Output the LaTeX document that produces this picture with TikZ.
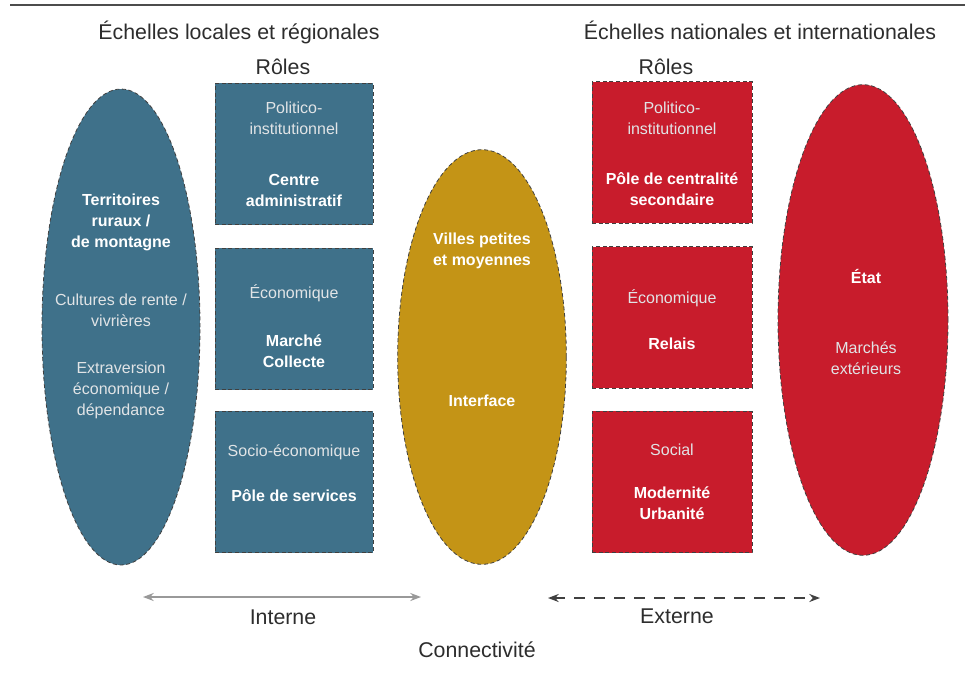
\documentclass[tikz,border=0pt]{standalone}
\usepackage{fontspec}
\setmainfont{Liberation Sans}
\usetikzlibrary{shapes.geometric,arrows.meta}
\definecolor{bluef}{RGB}{63,113,138}
\definecolor{orangef}{RGB}{196,148,22}
\definecolor{redf}{RGB}{200,28,44}
\definecolor{titlec}{RGB}{45,45,45}
\definecolor{lightt}{RGB}{225,228,230}
\tikzset{
  ell/.style={ellipse, draw=black!75, densely dashed, line width=0.6pt, inner sep=0pt},
  boxx/.style={rectangle, draw=black!75, densely dashed, line width=0.6pt, inner sep=0pt, minimum width=118.5pt, minimum height=106pt},
  reg/.style={text=lightt, align=center, font=\fontsize{12}{15.75}\selectfont, inner sep=0pt},
  bld/.style={text=white, align=center, font=\fontsize{12}{15.75}\selectfont\bfseries, inner sep=0pt},
  ttl/.style={text=titlec, font=\fontsize{16}{19}\selectfont, inner sep=0pt},
  intarrow/.style={{Stealth[length=8pt,width=6pt]}-{Stealth[length=8pt,width=6pt]}, draw=black!40, line width=1.5pt},
  extarrow/.style={{Stealth[length=8pt,width=6pt]}-{Stealth[length=8pt,width=6pt]}, draw=black!75, line width=1.5pt, dash pattern=on 8pt off 7pt}
}
\begin{document}
\begin{tikzpicture}[x=0.75pt,y=-0.75pt]
\useasboundingbox (0,0) rectangle (965,676);
\fill[white] (0,0) rectangle (965,676);
\draw[black!70, line width=1.5pt] (10,5) coordinate (tl) -- (965,5) coordinate (tr);

% titles
\node[ttl] (t1) at (239,32) {Échelles locales et régionales};
\node[ttl] (r1) at (283,67) {Rôles};
\node[ttl] (t2) at (760,30) {Échelles nationales et internationales};
\node[ttl] (r2) at (666,67) {Rôles};

% left ellipse
\node[ell, fill=bluef, minimum width=118.5pt, minimum height=357pt] (terr) at (121,327) {};
\node[bld] (terr1) at (121,222) {Territoires\\ruraux /\\de montagne};
\node[reg] (terr2) at (121,310) {Cultures de rente /\\vivrières};
\node[reg] (terr3) at (121,390) {Extraversion\\économique /\\dépendance};

% blue boxes
\node[boxx, fill=bluef] (b1) at (294,154) {};
\node[reg] (b1a) at (294,118) {Politico-\\institutionnel};
\node[bld] (b1b) at (294,190) {Centre\\administratif};
\node[boxx, fill=bluef] (b2) at (294,319) {};
\node[reg] (b2a) at (294,293) {Économique};
\node[bld] (b2b) at (294,351) {Marché\\Collecte};
\node[boxx, fill=bluef] (b3) at (294,482) {};
\node[reg] (b3a) at (294,452) {Socio-économique};
\node[bld] (b3b) at (294,496) {Pôle de services};

% orange ellipse
\node[ell, fill=orangef, minimum width=126.5pt, minimum height=311pt] (villes) at (482,357) {};
\node[bld] (v1) at (482,251) {Villes petites\\et moyennes};
\node[bld] (v2) at (482,401) {Interface};

% red boxes
\node[boxx, fill=redf, minimum width=120pt] (rb1) at (672,152.5) {};
\node[reg] (rb1a) at (672,118) {Politico-\\institutionnel};
\node[bld] (rb1b) at (672,189) {Pôle de centralité\\secondaire};
\node[boxx, fill=redf, minimum width=120pt] (rb2) at (672,317.5) {};
\node[reg] (rb2a) at (672,298) {Économique};
\node[bld] (rb2b) at (672,344) {Relais};
\node[boxx, fill=redf, minimum width=120pt] (rb3) at (672,482) {};
\node[reg] (rb3a) at (672,450) {Social};
\node[bld] (rb3b) at (672,503) {Modernité\\Urbanité};

% red ellipse
\node[ell, fill=redf, minimum width=127.5pt, minimum height=353pt] (etat) at (863,320) {};
\node[bld] (e1) at (866,276) {État};
\node[reg] (e2) at (866,358) {Marchés\\extérieurs};

% connectivity arrows
\coordinate (ia) at (143,597);
\coordinate (ib) at (421,597);
\coordinate (ea) at (548,598);
\coordinate (eb) at (820,598);
\draw[intarrow] (ia) -- (ib);
\draw[extarrow] (ea) -- (eb);
\node[ttl] (int) at (283,617) {Interne};
\node[ttl] (ext) at (677,616) {Externe};
\node[ttl] (conn) at (477,650) {Connectivité};
\end{tikzpicture}
\end{document}
